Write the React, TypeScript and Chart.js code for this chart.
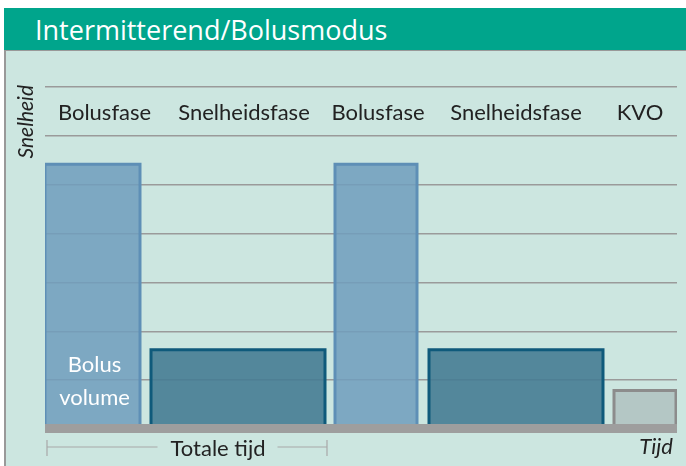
import React, { useEffect, useRef } from "react";
import { Chart, registerables } from "chart.js";
Chart.register(...registerables);

const title = "Intermitterend/Bolusmodus";
const phaseLabels = ["Bolusfase", "Snelheidsfase", "Bolusfase", "Snelheidsfase", "KVO"];
const phaseStart = [0, 106, 290, 384, 569];
const phaseEnd = [95, 280, 372, 558, 631];
const rates = [5.42, 1.62, 5.42, 1.62, 0.79];
const yTicks = [0, 1, 2, 3, 4, 5, 6, 7];
const yAxisTitle = "Snelheid";
const xAxisTitle = "Tijd";
const bracketLabel = "Totale tijd";
const bolusLines = ["Bolus", "volume"];

const labelShift = [12, 6, 2, 0, -5];
const fills = [
  "rgba(112,157,189,0.86)",
  "rgba(70,124,148,0.9)",
  "rgba(112,157,189,0.86)",
  "rgba(70,124,148,0.9)",
  "rgba(178,196,194,0.92)",
];
const borders = ["#5e8fb6", "#0f5a7b", "#5e8fb6", "#0f5a7b", "#8c8c8c"];
const TITLE_FONT = "'Open Sans', sans-serif";
const FONT = "Lato, 'Open Sans', sans-serif";

export default function App() {
  const ref = useRef<HTMLCanvasElement | null>(null);
  useEffect(() => {
    if (!ref.current) return;
    const datasets = phaseLabels.map((lab, i) => ({
      label: lab,
      data: [
        { x: phaseStart[i], y: 0 },
        { x: phaseStart[i], y: rates[i] },
        { x: phaseEnd[i], y: rates[i] },
        { x: phaseEnd[i], y: 0 },
      ],
      fill: "origin",
      backgroundColor: fills[i],
      borderColor: borders[i],
      borderWidth: 3,
      pointRadius: 0,
      tension: 0,
      borderJoinStyle: "miter" as const,
    }));
    const overlay = {
      id: "overlay",
      afterDatasetsDraw(chart: any) {
        const { ctx, chartArea, scales } = chart;
        const x = scales.x;
        const y = scales.y;
        const y0 = y.getPixelForValue(0);
        const yTop = y.getPixelForValue(yTicks[yTicks.length - 1]);
        ctx.save();
        // baseline
        ctx.fillStyle = "#9e9e9e";
        ctx.fillRect(chartArea.left, y0 - 5, chartArea.right - chartArea.left, 9);
        // phase labels
        ctx.fillStyle = "#222";
        ctx.font = `22px ${FONT}`;
        ctx.textAlign = "center";
        ctx.textBaseline = "alphabetic";
        phaseLabels.forEach((lab, i) => {
          const cx = x.getPixelForValue((phaseStart[i] + phaseEnd[i]) / 2) + labelShift[i];
          ctx.fillText(lab, cx, yTop + 33);
        });
        // bolus volume
        ctx.fillStyle = "#ffffff";
        const bx = x.getPixelForValue((phaseStart[0] + phaseEnd[0]) / 2) + 2;
        ctx.fillText(bolusLines[0], bx, y0 - 57);
        ctx.fillText(bolusLines[1], bx, y0 - 24);
        // y title
        ctx.fillStyle = "#222";
        ctx.font = `italic 21px ${FONT}`;
        ctx.save();
        ctx.translate(chartArea.left - 12.5, chartArea.top - 2);
        ctx.rotate(-Math.PI / 2);
        ctx.textAlign = "right";
        ctx.fillText(yAxisTitle, 0, 0);
        ctx.restore();
        // x title
        ctx.font = `italic 22px ${FONT}`;
        ctx.textAlign = "right";
        ctx.fillText(xAxisTitle, chartArea.right - 4, y0 + 25);
        // bracket
        const lx = x.getPixelForValue(phaseStart[0]) + 2;
        const rx = x.getPixelForValue(phaseEnd[1]) + 2;
        const by = y0 + 18;
        ctx.font = `22px ${FONT}`;
        ctx.textAlign = "center";
        const mid = lx + 171;
        const tw = ctx.measureText(bracketLabel).width;
        ctx.fillText(bracketLabel, mid, y0 + 27);
        ctx.strokeStyle = "#a8a8a8";
        ctx.lineWidth = 1.2;
        ctx.beginPath();
        ctx.moveTo(lx, by);
        ctx.lineTo(mid - tw / 2 - 13, by);
        ctx.moveTo(mid + tw / 2 + 12, by);
        ctx.lineTo(rx, by);
        ctx.moveTo(lx, y0 + 11);
        ctx.lineTo(lx, y0 + 27);
        ctx.moveTo(rx, y0 + 11);
        ctx.lineTo(rx, y0 + 27);
        ctx.stroke();
        ctx.restore();
      },
    };
    const chart = new Chart(ref.current, {
      type: "line",
      data: { datasets: datasets as any },
      options: {
        responsive: false,
        animation: false,
        layout: { padding: { left: 38, right: 9, top: 36, bottom: 37 } },
        plugins: { legend: { display: false }, tooltip: { enabled: false }, title: { display: false } },
        scales: {
          x: { type: "linear", min: 0, max: 632, display: false },
          y: {
            type: "linear",
            min: yTicks[0],
            max: yTicks[yTicks.length - 1],
            afterBuildTicks: (axis: any) => {
              axis.ticks = yTicks.map((v) => ({ value: v }));
            },
            ticks: { display: false },
            grid: { color: "#9a9a9a", lineWidth: 1.5, drawTicks: false },
            border: { display: false },
          },
        },
      },
      plugins: [overlay],
    });
    return () => chart.destroy();
  }, []);
  return (
    <div style={{ position: "absolute", left: 0, top: 0, width: 686, height: 466, background: "#fff", overflow: "hidden" }}>
      <div
        style={{
          position: "absolute",
          left: 4,
          top: 8,
          width: 682,
          height: 42,
          background: "#00a58c",
          color: "#fff",
          fontFamily: TITLE_FONT,
          fontSize: 27,
          fontWeight: 500,
          lineHeight: "44px",
          paddingLeft: 31,
          boxSizing: "border-box",
        }}
      >
        {title}
      </div>
      <div
        style={{
          position: "absolute",
          left: 4,
          top: 50,
          width: 682,
          height: 416,
          background: "#cce6e0",
          borderLeft: "2px solid #999",
          borderTop: "1px solid #999",
          boxSizing: "border-box",
        }}
      />
      <canvas ref={ref} width={679} height={415} style={{ position: "absolute", left: 7, top: 51, display: "block" }} />
    </div>
  );
}
